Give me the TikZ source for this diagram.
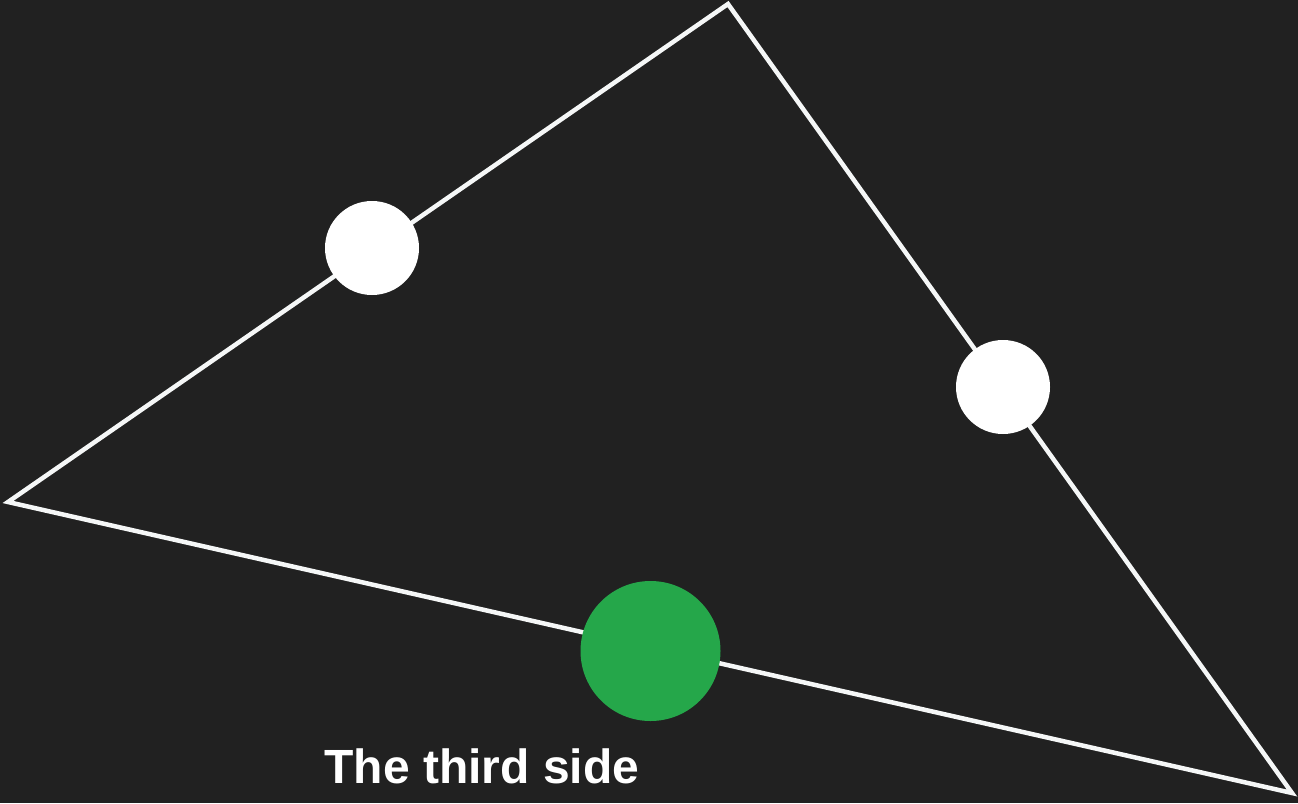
\documentclass[tikz,border=0pt]{standalone}
\usepackage{fontspec}
\setmainfont{Liberation Sans}
\definecolor{bg}{HTML}{212121}
\definecolor{grn}{HTML}{25A74A}
\definecolor{edge}{HTML}{F5F7F7}
\begin{document}
\begin{tikzpicture}[x=1pt,y=-1pt,
  side/.style={draw=edge,line width=4.5pt,line join=miter},
  wdot/.style={circle,fill=white,inner sep=0pt,minimum size=94pt},
  gdot/.style={circle,fill=grn,inner sep=0pt,minimum size=140pt},
  lbl/.style={text=white,font=\fontsize{48}{56}\selectfont\bfseries,anchor=base}]
\fill[bg] (0,0) rectangle (1298,803);
\useasboundingbox (0,0) rectangle (1298,803);
\coordinate (A) at (728,4);
\coordinate (B) at (8,502);
\coordinate (C) at (1292,793);
\draw[side] (A) -- (B) -- (C) -- cycle;
\node[wdot] (m1) at (372,248) {};
\node[wdot] (m2) at (1003,387) {};
\node[gdot] (m3) at (650.5,651) {};
\node[lbl] (t) at (482,783) {The third side};
\end{tikzpicture}
\end{document}
